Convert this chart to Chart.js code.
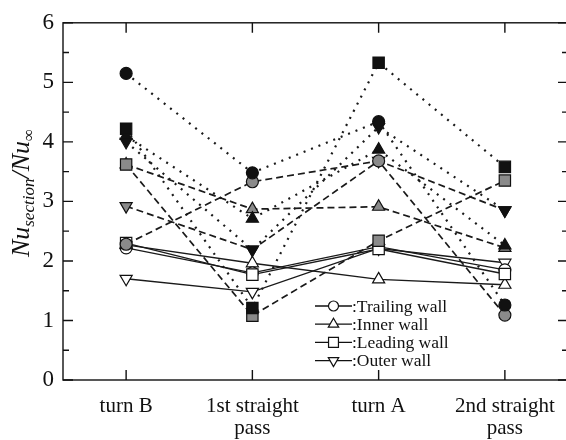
<!DOCTYPE html>
<html>
<head>
<meta charset="utf-8">
<script src="https://cdn.jsdelivr.net/npm/chart.js@4.4.0/dist/chart.umd.min.js"></script>
<style>
    html, body { margin: 0; padding: 0; background: #fff; overflow: hidden; }
    #wrap { width: 569px; height: 440px; }
</style>
</head>
<body>
<div id="wrap"><canvas id="chart" width="569" height="440"></canvas></div>
<script>
// categories along the x axis (multi-line labels)
const categories = [['turn B'], ['1st straight', 'pass'], ['turn A'], ['2nd straight', 'pass']];
const yTicks = [0, 1, 2, 3, 4, 5, 6];

// open markers, solid lines
const trailingOpen = [2.22, 1.80, 2.24, 1.85];
const innerOpen    = [2.27, 1.96, 1.69, 1.60];
const leadingOpen  = [2.30, 1.77, 2.20, 1.78];
const outerOpen    = [1.70, 1.48, 2.21, 1.97];

// gray markers, dashed lines
const trailingGray = [2.28, 3.33, 3.68, 1.09];
const innerGray    = [3.62, 2.87, 2.91, 2.22];
const leadingGray  = [3.62, 1.08, 2.34, 3.35];
const outerGray    = [2.92, 2.19, 3.68, 2.85];

// black markers, dotted lines
const trailingBlack = [5.15, 3.48, 4.34, 1.26];
const innerBlack    = [4.10, 2.71, 3.87, 2.26];
const leadingBlack  = [4.22, 1.21, 5.33, 3.58];
const outerBlack    = [4.00, 2.19, 4.25, 2.85];

const legendNames = [':Trailing wall', ':Inner wall', ':Leading wall', ':Outer wall'];

const SERIF = "'Liberation Serif', 'Times New Roman', serif";

// marker shapes: circle, triangle, square, inverted triangle
const shapes = [
    { style: 'circle', rotation: 0, radius: 6 },
    { style: 'triangle', rotation: 0, radius: 7 },
    { style: 'rect', rotation: 0, radius: 8 },
    { style: 'triangle', rotation: 180, radius: 7 }
];

const lineKinds = {
    open:  { fill: '#ffffff', dash: [], width: 1.4 },
    gray:  { fill: '#8a8a8a', dash: [7, 4], width: 1.7 },
    black: { fill: '#111111', dash: [2, 6], width: 2.2 }
};

function makeSet(label, values, shapeIndex, kind) {
    const shape = shapes[shapeIndex];
    const k = lineKinds[kind];
    return {
        label: label,
        data: values,
        borderColor: '#1a1a1a',
        borderWidth: k.width,
        borderDash: k.dash,
        pointStyle: shape.style,
        pointRotation: shape.rotation,
        pointRadius: shape.radius,
        pointHoverRadius: shape.radius,
        pointBackgroundColor: k.fill,
        pointBorderColor: '#111',
        pointBorderWidth: 1.2,
        tension: 0,
        fill: false
    };
}

// first dataset is drawn on top: black markers over gray over open ones
const datasets = [
    makeSet('Leading black', leadingBlack, 2, 'black'),
    makeSet('Trailing black', trailingBlack, 0, 'black'),
    makeSet('Inner black', innerBlack, 1, 'black'),
    makeSet('Outer black', outerBlack, 3, 'black'),
    makeSet('Leading gray', leadingGray, 2, 'gray'),
    makeSet('Trailing gray', trailingGray, 0, 'gray'),
    makeSet('Inner gray', innerGray, 1, 'gray'),
    makeSet('Outer gray', outerGray, 3, 'gray'),
    makeSet('Leading open', leadingOpen, 2, 'open'),
    makeSet('Trailing open', trailingOpen, 0, 'open'),
    makeSet('Inner open', innerOpen, 1, 'open'),
    makeSet('Outer open', outerOpen, 3, 'open')
];

// box around the plot with inward tick marks
const framePlugin = {
    id: 'frame',
    afterDraw(chart) {
        const ctx = chart.ctx;
        const area = chart.chartArea;
        const xs = chart.scales.x;
        const ys = chart.scales.y;
        ctx.save();
        ctx.strokeStyle = '#111';
        ctx.lineWidth = 1.4;
        ctx.strokeRect(area.left, area.top, area.right - area.left, area.bottom - area.top);
        ctx.beginPath();
        for (let v = 0; v <= 6; v += 0.5) {
            const y = ys.getPixelForValue(v);
            const len = (v % 1 === 0) ? 10 : 6;
            ctx.moveTo(area.left, y); ctx.lineTo(area.left + len, y);
            ctx.moveTo(area.right, y); ctx.lineTo(area.right - len, y);
        }
        categories.forEach((c, i) => {
            const x = xs.getPixelForValue(i);
            ctx.moveTo(x, area.bottom); ctx.lineTo(x, area.bottom - 10);
            ctx.moveTo(x, area.top); ctx.lineTo(x, area.top + 10);
        });
        ctx.stroke();
        ctx.restore();
    }
};

// legend inside the plot: one entry per wall, open marker on a short line
const legendPlugin = {
    id: 'wallLegend',
    afterDraw(chart) {
        const ctx = chart.ctx;
        const x0 = 315, y0 = 306, rowH = 18.2, lineLen = 37;
        ctx.save();
        legendNames.forEach((name, i) => {
            const y = y0 + i * rowH;
            ctx.strokeStyle = '#111';
            ctx.lineWidth = 1.3;
            ctx.beginPath();
            ctx.moveTo(x0, y); ctx.lineTo(x0 + lineLen, y);
            ctx.stroke();
            ctx.fillStyle = '#fff';
            ctx.lineWidth = 1.2;
            const s = shapes[i];
            Chart.helpers.drawPoint(ctx, {
                pointStyle: s.style,
                rotation: s.rotation,
                radius: s.radius - 1,
                borderWidth: 1.2
            }, x0 + lineLen / 2, y);
            ctx.fillStyle = '#111';
            ctx.font = '17.5px ' + SERIF;
            ctx.textBaseline = 'middle';
            ctx.textAlign = 'left';
            ctx.fillText(name, x0 + lineLen, y + 1);
        });
        ctx.restore();
    }
};

// rotated y axis title with subscripts: Nu_section / Nu_inf
const yTitlePlugin = {
    id: 'yTitle',
    afterDraw(chart) {
        const ctx = chart.ctx;
        const parts = [
            { t: 'Nu', size: 26, dy: 0 },
            { t: 'section', size: 17, dy: 5 },
            { t: '/Nu', size: 26, dy: 0 },
            { t: '\u221e', size: 17, dy: 5 }
        ];
        ctx.save();
        let total = 0;
        parts.forEach(p => {
            ctx.font = (p.t === '\u221e' ? '' : 'italic ') + p.size + 'px ' + SERIF;
            p.w = ctx.measureText(p.t).width;
            total += p.w;
        });
        ctx.translate(29, 193);
        ctx.rotate(-Math.PI / 2);
        ctx.fillStyle = '#111';
        ctx.textBaseline = 'alphabetic';
        ctx.textAlign = 'left';
        let x = -total / 2;
        parts.forEach(p => {
            ctx.font = (p.t === '\u221e' ? '' : 'italic ') + p.size + 'px ' + SERIF;
            ctx.fillText(p.t, x, p.dy);
            x += p.w;
        });
        ctx.restore();
    }
};

new Chart(document.getElementById('chart'), {
    type: 'line',
    data: { labels: categories, datasets: datasets },
    options: {
        responsive: false,
        animation: false,
        events: [],
        layout: { autoPadding: false, padding: { left: 0, right: 1, top: 19, bottom: 0 } },
        plugins: {
            legend: { display: false },
            tooltip: { enabled: false }
        },
        scales: {
            x: {
                type: 'category',
                offset: true,
                grid: { display: false, drawTicks: false },
                border: { display: false },
                ticks: {
                    color: '#111',
                    font: { family: SERIF, size: 21, lineHeight: 1.05 },
                    padding: 15,
                    maxRotation: 0,
                    autoSkip: false
                },
                afterFit(scale) {
                    scale.height = 60;
                    scale.paddingLeft = 0;
                    scale.paddingRight = 0;
                }
            },
            y: {
                min: 0,
                max: 6,
                grid: { display: false, drawTicks: false },
                border: { display: false },
                afterBuildTicks(scale) { scale.ticks = yTicks.map(v => ({ value: v })); },
                ticks: {
                    color: '#111',
                    font: { family: SERIF, size: 23 },
                    padding: 9
                },
                afterFit(scale) { scale.width = 63; }
            }
        }
    },
    plugins: [framePlugin, legendPlugin, yTitlePlugin]
});
</script>
</body>
</html>
